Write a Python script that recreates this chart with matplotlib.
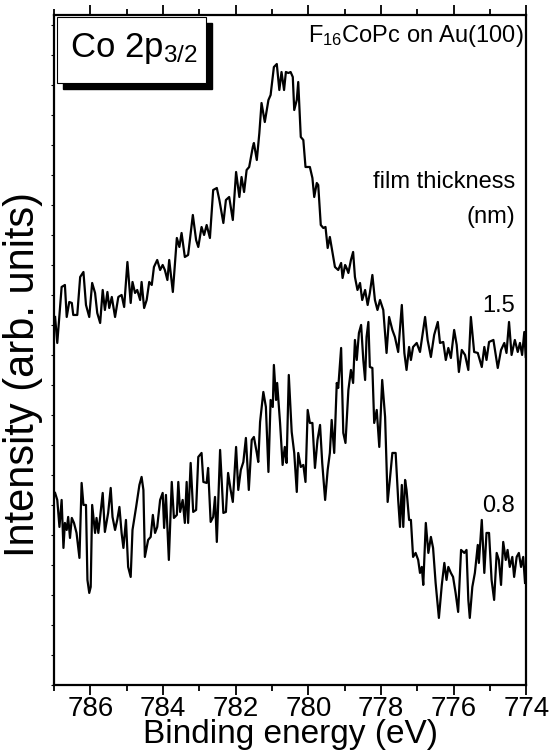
import matplotlib
matplotlib.use("Agg")
import matplotlib.pyplot as plt
from matplotlib.patches import Rectangle
from matplotlib.ticker import MultipleLocator

plt.rcParams['font.family'] = ['Liberation Sans', 'DejaVu Sans']
plt.rcParams['mathtext.default'] = 'regular'

# 1.5 nm film (upper trace), binding energy in eV / intensity in arb. units
energy_15 = [
    786.97, 786.91, 786.79, 786.70, 786.65, 786.58, 786.51, 786.47, 786.36, 786.28,
    786.19, 786.12, 786.03, 785.95, 785.87, 785.81, 785.73, 785.66, 785.60, 785.53,
    785.48, 785.41, 785.32, 785.23, 785.14, 785.07, 784.98, 784.89, 784.84, 784.77,
    784.71, 784.63, 784.59, 784.52, 784.45, 784.38, 784.31, 784.25, 784.16, 784.08,
    784.01, 783.95, 783.88, 783.83, 783.73, 783.62, 783.55, 783.49, 783.40, 783.31,
    783.18, 783.09, 783.03, 782.94, 782.87, 782.80, 782.71, 782.62, 782.52, 782.45,
    782.34, 782.27, 782.18, 782.08, 781.99, 781.90, 781.84, 781.77, 781.70, 781.63,
    781.53, 781.50, 781.42, 781.35, 781.29, 781.20, 781.10, 781.04, 780.95, 780.87,
    780.80, 780.74, 780.67, 780.62, 780.55, 780.49, 780.43, 780.39, 780.32, 780.28,
    780.21, 780.14, 780.08, 779.96, 779.89, 779.84, 779.77, 779.73, 779.66, 779.59,
    779.53, 779.47, 779.41, 779.34, 779.27, 779.18, 779.10, 779.06, 778.99, 778.95,
    778.90, 778.83, 778.77, 778.72, 778.65, 778.58, 778.52, 778.44, 778.37, 778.31,
    778.24, 778.17, 778.10, 778.03, 777.94, 777.85, 777.78, 777.69, 777.62, 777.53,
    777.43, 777.36, 777.30, 777.23, 777.18, 777.12, 777.02, 776.93, 776.79, 776.72,
    776.63, 776.54, 776.44, 776.38, 776.29, 776.22, 776.15, 776.08, 775.99, 775.92,
    775.86, 775.78, 775.69, 775.60, 775.53, 775.44, 775.34, 775.23, 775.16, 775.10,
    775.03, 774.91, 774.79, 774.70, 774.61, 774.55, 774.48, 774.41, 774.32, 774.24,
    774.18, 774.12, 774.06, 774.02,
]
intensity_15 = [
    368, 342, 398, 400, 368, 383, 382, 370, 370, 408,
    413, 380, 368, 402, 392, 372, 362, 395, 375, 393,
    377, 388, 368, 388, 390, 378, 423, 382, 403, 392,
    395, 385, 403, 377, 385, 403, 400, 418, 425, 415,
    420, 415, 405, 425, 393, 447, 438, 452, 428, 430,
    470, 445, 438, 458, 450, 460, 447, 495, 497, 485,
    462, 485, 488, 465, 513, 488, 508, 493, 515, 518,
    538, 542, 525, 552, 582, 563, 585, 590, 618, 621,
    595, 613, 595, 613, 612, 613, 608, 575, 585, 603,
    548, 545, 518, 518, 507, 488, 502, 500, 460, 457,
    458, 437, 448, 433, 418, 415, 422, 407, 420, 417,
    412, 425, 433, 408, 395, 402, 385, 395, 380, 392,
    410, 385, 375, 385, 375, 332, 368, 355, 348, 333,
    380, 332, 315, 338, 325, 338, 342, 333, 368, 345,
    328, 350, 363, 342, 343, 325, 337, 327, 355, 340,
    313, 335, 330, 315, 368, 333, 332, 318, 338, 325,
    343, 345, 317, 335, 342, 332, 363, 330, 345, 333,
    342, 330, 353, 328,
]

# 0.8 nm film (lower trace)
energy_08 = [
    786.97, 786.91, 786.85, 786.79, 786.74, 786.70, 786.65, 786.61, 786.56, 786.51,
    786.45, 786.38, 786.30, 786.24, 786.19, 786.12, 786.08, 786.03, 785.99, 785.95,
    785.87, 785.83, 785.78, 785.73, 785.66, 785.60, 785.51, 785.44, 785.39, 785.32,
    785.26, 785.20, 785.14, 785.09, 785.02, 784.96, 784.89, 784.84, 784.74, 784.65,
    784.59, 784.54, 784.50, 784.41, 784.34, 784.28, 784.22, 784.16, 784.08, 784.01,
    783.97, 783.92, 783.84, 783.76, 783.70, 783.62, 783.58, 783.53, 783.46, 783.40,
    783.35, 783.31, 783.24, 783.17, 783.09, 783.03, 782.94, 782.89, 782.80, 782.76,
    782.69, 782.62, 782.57, 782.52, 782.43, 782.34, 782.27, 782.21, 782.14, 782.08,
    781.99, 781.93, 781.86, 781.79, 781.72, 781.64, 781.56, 781.50, 781.42, 781.38,
    781.33, 781.24, 781.17, 781.10, 781.04, 780.98, 780.95, 780.89, 780.86, 780.78,
    780.71, 780.65, 780.60, 780.54, 780.46, 780.39, 780.32, 780.28, 780.21, 780.14,
    780.08, 780.02, 779.96, 779.89, 779.82, 779.75, 779.68, 779.62, 779.54, 779.47,
    779.41, 779.36, 779.29, 779.22, 779.18, 779.10, 779.04, 778.98, 778.90, 778.83,
    778.77, 778.72, 778.67, 778.61, 778.55, 778.49, 778.44, 778.40, 778.35, 778.31,
    778.24, 778.19, 778.12, 778.05, 777.97, 777.89, 777.82, 777.76, 777.69, 777.60,
    777.53, 777.48, 777.43, 777.39, 777.34, 777.30, 777.23, 777.18, 777.12, 777.05,
    776.98, 776.93, 776.88, 776.84, 776.77, 776.70, 776.63, 776.57, 776.50, 776.41,
    776.33, 776.26, 776.20, 776.15, 776.08, 776.02, 775.95, 775.88, 775.80, 775.71,
    775.65, 775.60, 775.56, 775.49, 775.42, 775.34, 775.31, 775.23, 775.16, 775.10,
    775.03, 774.96, 774.89, 774.82, 774.76, 774.70, 774.64, 774.57, 774.52, 774.46,
    774.39, 774.34, 774.27, 774.21, 774.15, 774.09, 774.04,
]
intensity_08 = [
    192, 185, 158, 185, 137, 162, 155, 168, 147, 167,
    162, 152, 127, 202, 180, 180, 105, 92, 98, 180,
    152, 167, 152, 168, 192, 153, 172, 197, 168, 155,
    165, 178, 152, 137, 165, 118, 108, 155, 178, 200,
    208, 195, 128, 145, 148, 170, 152, 158, 185, 192,
    157, 190, 125, 203, 167, 170, 203, 173, 185, 162,
    203, 162, 222, 173, 175, 228, 232, 203, 202, 217,
    163, 168, 188, 143, 235, 172, 173, 212, 195, 183,
    238, 195, 215, 223, 247, 195, 245, 248, 232, 223,
    263, 293, 278, 213, 285, 278, 320, 285, 302, 262,
    220, 238, 222, 310, 253, 232, 193, 232, 218, 220,
    203, 275, 262, 262, 217, 245, 260, 222, 185, 215,
    232, 265, 232, 302, 297, 337, 252, 242, 295, 315,
    302, 345, 325, 352, 360, 325, 305, 348, 363, 318,
    317, 262, 275, 238, 305, 268, 183, 205, 232, 232,
    185, 158, 200, 158, 205, 195, 165, 165, 128, 132,
    125, 112, 118, 100, 162, 132, 148, 137, 102, 67,
    100, 122, 105, 118, 112, 108, 92, 73, 135, 132,
    135, 85, 67, 98, 112, 140, 122, 165, 112, 152,
    152, 105, 85, 132, 125, 100, 143, 125, 135, 118,
    128, 108, 128, 132, 118, 128, 102,
]

xticks = [786, 784, 782, 780, 778, 776, 774]

fig = plt.figure(figsize=(5.51, 7.51), dpi=100)
ax = fig.add_axes([0.098, 0.088, 0.8575, 0.892])

ax.plot(energy_15, intensity_15, color='black', lw=1.6)
ax.plot(energy_08, intensity_08, color='black', lw=1.6)

ax.set_xlim(787, 774)
ax.set_ylim(0, 670)
ax.set_xticks(xticks)
ax.xaxis.set_minor_locator(MultipleLocator(1))
ax.yaxis.set_major_locator(MultipleLocator(30))
ax.set_yticklabels([])
ax.tick_params(axis='x', which='major', direction='out', length=7, width=1.3,
               labelsize=20, top=True, pad=1)
ax.tick_params(axis='x', which='minor', direction='out', length=4, width=1.3, top=True)
ax.tick_params(axis='y', which='major', direction='out', length=2.5, width=0.8)
for s in ax.spines.values():
    s.set_linewidth(1.6)

# axis titles placed as figure text (the x title sits at the very bottom edge)
fig.text(0.528, 0.001, 'Binding energy (eV)', fontsize=24, ha='center', va='bottom')
fig.text(0.042, 0.501, 'Intensity (arb. units)', fontsize=30, rotation=90,
         ha='center', va='center')

# framed label with drop shadow
ax.add_patch(Rectangle((0.019, 0.889), 0.316, 0.099, transform=ax.transAxes,
                       facecolor='black', edgecolor='black', clip_on=False, zorder=4))
ax.add_patch(Rectangle((0.006, 0.898), 0.316, 0.099, transform=ax.transAxes,
                       facecolor='white', edgecolor='black', lw=0.8, clip_on=False, zorder=5))
ax.text(0.034, 0.937, 'Co 2p$_{3/2}$', transform=ax.transAxes, fontsize=25,
        va='baseline', ha='left', zorder=6)

ax.text(0.993, 0.960, 'F$_{16}$CoPc on Au(100)', transform=ax.transAxes,
        fontsize=17, ha='right', va='baseline')
ax.text(0.976, 0.742, 'film thickness', transform=ax.transAxes,
        fontsize=17, ha='right', va='baseline')
ax.text(0.976, 0.690, '(nm)', transform=ax.transAxes,
        fontsize=17, ha='right', va='baseline')
ax.text(0.976, 0.557, '1.5', transform=ax.transAxes,
        fontsize=17, ha='right', va='baseline')
ax.text(0.976, 0.258, '0.8', transform=ax.transAxes,
        fontsize=17, ha='right', va='baseline')

fig.savefig('out.png', dpi=100)
